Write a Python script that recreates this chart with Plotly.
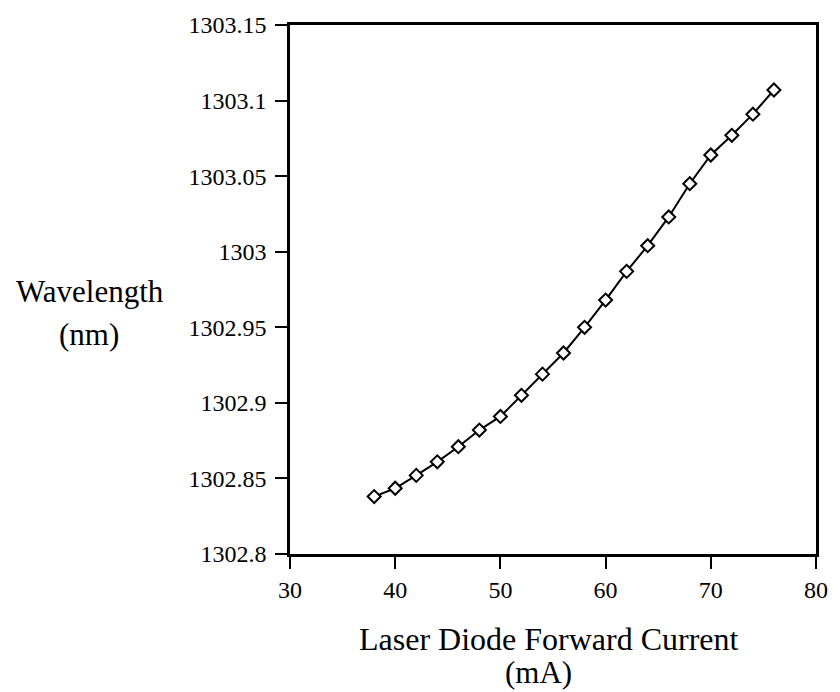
import plotly.graph_objects as go

current_ma = [38, 40, 42, 44, 46, 48, 50, 52, 54, 56, 58, 60, 62, 64, 66, 68, 70, 72, 74, 76]
wavelength_nm = [1302.838, 1302.8435, 1302.852, 1302.861, 1302.871, 1302.882, 1302.891,
                 1302.905, 1302.919, 1302.933, 1302.950, 1302.968, 1302.987, 1303.004,
                 1303.023, 1303.045, 1303.064, 1303.077, 1303.091, 1303.107]

x_ticks = [30, 40, 50, 60, 70, 80]
x_tick_labels = ["30", "40", "50", "60", "70", "80"]
y_ticks = [1302.8, 1302.85, 1302.9, 1302.95, 1303.0, 1303.05, 1303.1, 1303.15]
y_tick_labels = ["1302.8", "1302.85", "1302.9", "1302.95", "1303", "1303.05", "1303.1", "1303.15"]

x_title_lines = ["Laser Diode Forward Current", "(mA)"]
y_title_lines = ["Wavelength", "(nm)"]

FONT = "Liberation Serif, Times New Roman, serif"

fig = go.Figure()
fig.add_trace(go.Scatter(
    x=current_ma, y=wavelength_nm, mode="lines+markers",
    line=dict(color="black", width=2),
    marker=dict(symbol="diamond", size=10, color="white",
                line=dict(color="black", width=2)),
    showlegend=False,
))

W, H = 840, 692
L, R, T, B = 290, 17, 22, 138

axis_common = dict(showgrid=False, zeroline=False, showline=True, linecolor="black",
                   linewidth=2.5, mirror=True, ticks="outside", ticklen=12, tickwidth=1.5,
                   tickcolor="black", tickfont=dict(family=FONT, size=24, color="black"))

fig.update_layout(
    width=W, height=H,
    margin=dict(l=L, r=R, t=T, b=B),
    paper_bgcolor="white", plot_bgcolor="white",
    font=dict(family=FONT, color="black", size=24),
    xaxis=dict(range=[30, 80], tickvals=x_ticks, ticktext=x_tick_labels, **axis_common),
    yaxis=dict(range=[1302.8, 1303.15], tickvals=y_ticks, ticktext=y_tick_labels,
               ticklabelstandoff=4, **axis_common),
)

pw = W - L - R
ph = H - T - B
def px_x(x):
    return (x - L) / pw
def px_y(y):
    return (H - B - y) / ph

def label(text, cx, cy, size):
    fig.add_annotation(text=text, xref="paper", yref="paper",
                       x=px_x(cx), y=px_y(cy), xanchor="center", yanchor="middle",
                       showarrow=False, borderpad=0,
                       font=dict(family=FONT, size=size, color="black"))

label(x_title_lines[0], 552, 639, 32)
label(x_title_lines[1], 542, 673, 31)
label(y_title_lines[0], 87, 290, 31)
label(y_title_lines[1], 86, 333, 31)

fig.write_html("out.html")
